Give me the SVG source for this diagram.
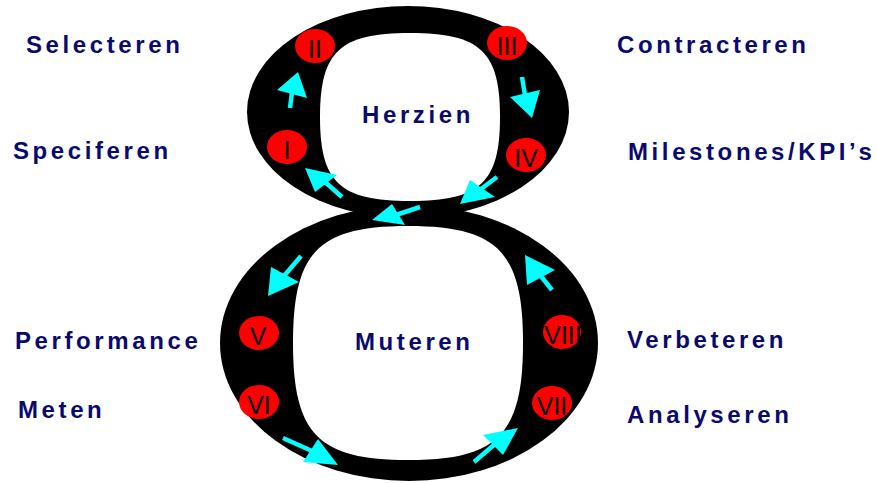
<svg xmlns="http://www.w3.org/2000/svg" width="877" height="483" viewBox="0 0 877 483">
<style>
.lbl{font-family:"Liberation Sans",Arial,sans-serif;font-weight:bold;font-size:24px;fill:#0a0a6e;letter-spacing:3.6px}
.num{font-family:"Liberation Sans",Arial,sans-serif;font-size:25px;fill:#000;text-anchor:middle}
.dot{fill:#ff0000}
.shaft{stroke:#00ffff;stroke-width:4.5;fill:none}
.head{fill:#00ffff}
</style>
<rect width="877" height="483" fill="#fff"/>
<g id="eight">
<ellipse cx="408" cy="112" rx="161" ry="106" fill="#000"/>
<ellipse cx="409" cy="343" rx="189" ry="138" fill="#000"/>
<path d="M410,33 C480.2,33 500,51.5 500,117 C500,182.5 480.2,201 410,201 C339.8,201 320,182.5 320,117 C320,51.5 339.8,33 410,33 Z" fill="#fff"/>
<path d="M408,226 C497.7,226 523,251.7 523,343 C523,434.3 497.7,460 408,460 C318.3,460 293,434.3 293,343 C293,251.7 318.3,226 408,226 Z" fill="#fff"/>
</g>
<g id="connectors">
<line class="shaft" x1="290" y1="108" x2="292" y2="92"/><polygon class="head" points="277,90 298,72 307,98"/>
<line class="shaft" x1="522" y1="77" x2="525" y2="95"/><polygon class="head" points="510,97 532,118 540,90"/>
<line class="shaft" x1="497" y1="177" x2="481" y2="189"/><polygon class="head" points="470,180 460,204 495,197"/>
<line class="shaft" x1="420" y1="207" x2="396" y2="215"/><polygon class="head" points="392,204 372,220 405,225"/>
<line class="shaft" x1="342" y1="197" x2="325" y2="182"/><polygon class="head" points="315,192 305,168 337,175"/>
<line class="shaft" x1="301" y1="256" x2="284" y2="276"/><polygon class="head" points="271,267 268,296 299,282"/>
<line class="shaft" x1="283" y1="438" x2="312" y2="451"/><polygon class="head" points="303,462 338,465 318,439"/>
<line class="shaft" x1="474" y1="462" x2="495" y2="444"/><polygon class="head" points="483,435 518,428 503,455"/>
<line class="shaft" x1="552" y1="290" x2="540" y2="275"/><polygon class="head" points="527,285 525,255 555,270"/>
</g>
<g id="n1"><ellipse class="dot" cx="287" cy="147" rx="20" ry="17"/><text class="num" x="287" y="159">I</text></g>
<g id="n2"><ellipse class="dot" cx="315" cy="46" rx="20" ry="17"/><text class="num" x="315" y="58">II</text></g>
<g id="n3"><ellipse class="dot" cx="507" cy="43" rx="20" ry="17"/><text class="num" x="507" y="55">III</text></g>
<g id="n4"><ellipse class="dot" cx="526" cy="155" rx="20" ry="17"/><text class="num" x="526" y="167">IV</text></g>
<g id="n5"><ellipse class="dot" cx="259" cy="333" rx="20" ry="17"/><text class="num" x="258" y="345">V</text></g>
<g id="n6"><ellipse class="dot" cx="259" cy="402" rx="20" ry="17"/><text class="num" x="259" y="414">VI</text></g>
<g id="n7"><ellipse class="dot" cx="552" cy="403" rx="20" ry="17"/><text class="num" x="552" y="415">VII</text></g>
<g id="n8"><ellipse class="dot" cx="562" cy="332" rx="19" ry="17"/><text class="num" x="563" y="344">VIII</text></g>
<g id="labels">
<text class="lbl" x="26" y="53">Selecteren</text>
<text class="lbl" x="13" y="159">Speciferen</text>
<text class="lbl" x="617" y="53">Contracteren</text>
<text class="lbl" x="628" y="160" letter-spacing="3.4">Milestones/KPI’s</text>
<text class="lbl" x="15" y="349" letter-spacing="4">Performance</text>
<text class="lbl" x="18" y="418">Meten</text>
<text class="lbl" x="627" y="348">Verbeteren</text>
<text class="lbl" x="627" y="423">Analyseren</text>
<text class="lbl" x="362" y="123" letter-spacing="2.6">Herzien</text>
<text class="lbl" x="355" y="350" letter-spacing="3.4">Muteren</text>
</g>
</svg>
